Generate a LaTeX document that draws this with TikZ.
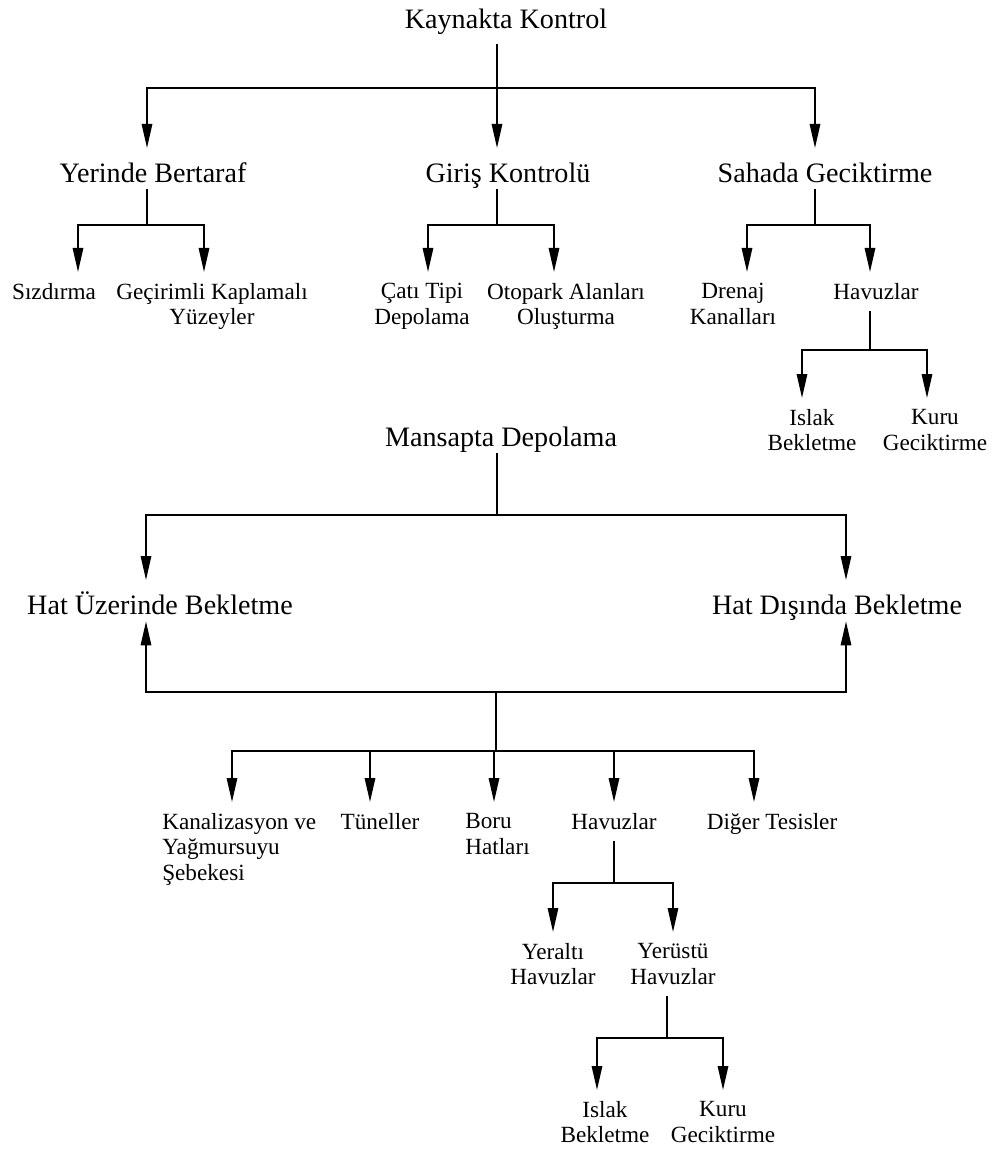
\documentclass[tikz,border=0pt]{standalone}
\usepackage{fontspec}
\setmainfont{Liberation Serif}
\usetikzlibrary{calc,arrows.meta}
\tikzset{
  conn/.style={draw=black, line width=1.3pt},
  arr/.style={conn, -{Triangle[length=0.6cm,width=0.26cm]}},
  head/.style={font=\fontsize{20}{24}\selectfont, inner sep=0pt, text height=24pt, text depth=5pt},
  lab/.style={font=\fontsize{16.5}{18}\selectfont, align=center, inner xsep=0pt, inner ysep=8pt},
}

\begin{document}
\begin{tikzpicture}[x=0.025cm,y=-0.025cm]
  \useasboundingbox (0,0) rectangle (995,1152);

  \node[head, anchor=base, text depth=11pt] (kk) at (506,28) {Kaynakta Kontrol};
  \node[head, anchor=north] (yb) at (153,148) {Yerinde Bertaraf};
  \node[head, anchor=north] (gk) at (508,148) {Giriş Kontrolü};
  \node[head, anchor=north] (sg) at (825,148) {Sahada Geciktirme};
  \coordinate (b1) at (497,88);
  \draw[conn] (kk.south -| b1) -- (b1);
  \draw[arr] (b1) -| ($(yb.north)+(-6,0)$);
  \draw[arr] (b1) -| ($(gk.north)+(-11,0)$);
  \draw[arr] (b1) -| ($(sg.north)+(-10,0)$);

  \node[lab, anchor=north] (sz) at (54,272) {Sızdırma};
  \node[lab, anchor=north] (gy) at (212,272) {Geçirimli Kaplamalı\\Yüzeyler};
  \coordinate (b2) at (147,225);
  \draw[conn] (yb.south -| b2) -- (b2);
  \draw[arr] (b2) -| ($(sz.north)+(24,0)$);
  \draw[arr] (b2) -| ($(gy.north)+(-8,0)$);

  \node[lab, anchor=north] (ct) at (422,272) {Çatı Tipi\\Depolama};
  \node[lab, anchor=north] (oa) at (566,272) {Otopark Alanları\\Oluşturma};
  \coordinate (b3) at (497,225);
  \draw[conn] (gk.south -| b3) -- (b3);
  \draw[arr] (b3) -| ($(ct.north)+(6,0)$);
  \draw[arr] (b3) -| ($(oa.north)+(-12,0)$);

  \node[lab, anchor=north] (dk) at (733,272) {Drenaj\\Kanalları};
  \node[lab, anchor=north] (hv1) at (876,272) {Havuzlar};
  \coordinate (b4) at (815,225);
  \draw[conn] (sg.south -| b4) -- (b4);
  \draw[arr] (b4) -| ($(dk.north)+(14,0)$);
  \draw[arr] (b4) -| ($(hv1.north)+(-6,0)$);

  \node[lab, anchor=north] (ib1) at (812,398) {Islak\\Bekletme};
  \node[lab, anchor=north] (kg1) at (935,398) {Kuru\\Geciktirme};
  \coordinate (b5) at (870,350);
  \draw[conn] (hv1.south -| b5) -- (b5);
  \draw[arr] (b5) -| ($(ib1.north)+(-10,0)$);
  \draw[arr] (b5) -| ($(kg1.north)+(-8,0)$);

  \node[head, anchor=base] (md) at (501,446) {Mansapta Depolama};
  \node[head, anchor=north] (hu) at (160,580) {Hat Üzerinde Bekletme};
  \node[head, anchor=north] (hd) at (837,580) {Hat Dışında Bekletme};
  \coordinate (b6) at (497,515);
  \draw[conn] (md.south -| b6) -- (b6);
  \draw[arr] (b6) -| ($(hu.north)+(-14,0)$);
  \draw[arr] (b6) -| ($(hd.north)+(9,0)$);

  \coordinate (j1) at (496,692);
  \coordinate (j2) at (496,751);
  \draw[arr] (j1) -| ($(hu.south)+(-14,0)$);
  \draw[arr] (j1) -| ($(hd.south)+(9,0)$);
  \draw[conn] (j1) -- (j2);

  \node[lab, align=left, anchor=north west] (kys) at (162,802) {Kanalizasyon ve\\Yağmursuyu\\Şebekesi};
  \node[lab, anchor=north] (tn) at (380,802) {Tüneller};
  \node[lab, align=left, anchor=north west] (bh) at (465,802) {Boru\\Hatları};
  \node[lab, anchor=north] (hv2) at (614,802) {Havuzlar};
  \node[lab, anchor=north] (dt) at (772,802) {Diğer Tesisler};
  \draw[arr] (j2) -| ($(kys.north west)+(70,0)$);
  \draw[arr] (j2) -| ($(tn.north)+(-10,0)$);
  \draw[arr] (j2) -| ($(bh.north west)+(29,0)$);
  \draw[arr] (j2) -| (hv2.north);
  \draw[arr] (j2) -| ($(dt.north)+(-18,0)$);

  \node[lab, anchor=north] (ya) at (553,932) {Yeraltı\\Havuzlar};
  \node[lab, anchor=north] (yu) at (673,932) {Yerüstü\\Havuzlar};
  \coordinate (b7) at (614,883);
  \draw[conn] (hv2.south) -- (b7);
  \draw[arr] (b7) -| (ya.north);
  \draw[arr] (b7) -| (yu.north);

  \node[lab, anchor=north] (ib2) at (605,1090) {Islak\\Bekletme};
  \node[lab, anchor=north] (kg2) at (723,1090) {Kuru\\Geciktirme};
  \coordinate (b8) at (667,1038);
  \draw[conn] (yu.south -| b8) -- (b8);
  \draw[arr] (b8) -| ($(ib2.north)+(-8,0)$);
  \draw[arr] (b8) -| (kg2.north);
\end{tikzpicture}
\end{document}
